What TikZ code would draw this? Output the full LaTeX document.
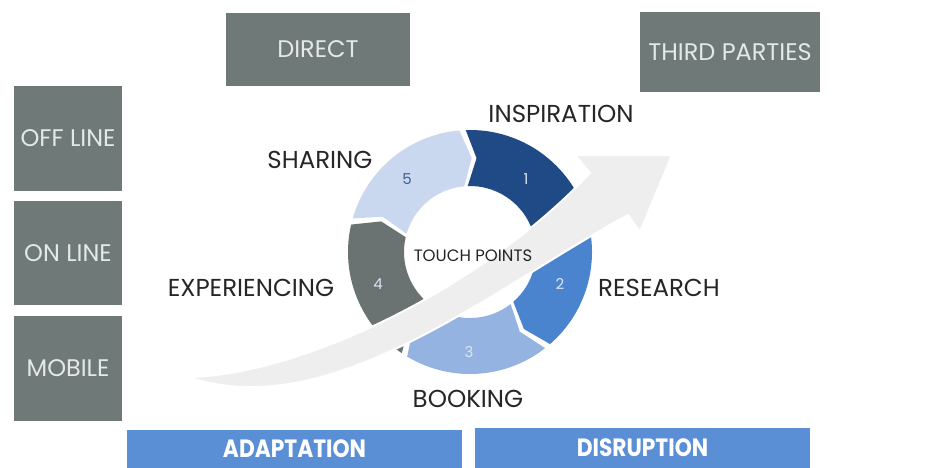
\documentclass[tikz,border=0pt]{standalone}
\usepackage{fontspec}
\setmainfont{Poppins}
\usepackage{graphicx}
\definecolor{boxgray}{HTML}{6F7A78}
\definecolor{boxtext}{HTML}{E4E8E8}
\definecolor{labeltext}{HTML}{262626}
\definecolor{navy}{HTML}{1F4A86}
\definecolor{midblue}{HTML}{4A84CF}
\definecolor{lightblue}{HTML}{95B3E0}
\definecolor{segray}{HTML}{6A7371}
\definecolor{paleblue}{HTML}{C9D8EE}
\definecolor{barblue}{HTML}{5B8FD5}
\definecolor{bandgray}{HTML}{EEEEEE}
\definecolor{numpale}{HTML}{DCE5F2}
\definecolor{numdark}{HTML}{3F5F99}
\begin{document}
\begin{tikzpicture}[x=1pt,y=-1pt,
  chanbox/.style={fill=boxgray, text=boxtext, inner sep=0pt,
    font=\fontsize{24}{28}\selectfont},
  phase/.style={text=labeltext, inner sep=0pt,
    font=\fontsize{24.5}{28}\selectfont},
  stepnum/.style={inner sep=0pt, font=\fontsize{15}{17}\selectfont},
  barbox/.style={fill=barblue, text=white, inner sep=0pt,
    font=\fontsize{25}{28}\selectfont\bfseries}]
\useasboundingbox (0,0) rectangle (931,468);

% channel boxes
\node[chanbox, minimum width=184pt, minimum height=73pt] (direct) at (318,49.5) {DIRECT};
\node[chanbox, minimum width=180pt, minimum height=80pt] (third) at (730,52) {THIRD PARTIES};
\node[chanbox, minimum width=108pt, minimum height=105pt] (offline) at (68,138.5) {OFF LINE};
\node[chanbox, minimum width=108pt, minimum height=104pt] (online) at (68,253) {ON LINE};
\node[chanbox, minimum width=108pt, minimum height=105pt] (mobile) at (68,368.5) {MOBILE};

% bottom bars, running off the lower edge
\node[barbox, minimum width=335pt, minimum height=38pt] (adapt) at (294.5,449) {\scalebox{0.87}[1]{ADAPTATION}};
\node[barbox, minimum width=335pt, minimum height=40pt] (disrupt) at (642.5,448) {\scalebox{0.87}[1]{DISRUPTION}};

% cycle of five chevron arcs
\begin{scope}[shift={(470,252)}, y=1pt]
  \foreach \A/\col in {92/navy, 20/midblue, -52/lightblue, -124/segray, 164/paleblue}{
    \pgfmathsetmacro{\Bend}{\A-69}
    \pgfmathsetmacro{\Btip}{\A-75}
    \pgfmathsetmacro{\Bnotch}{\A-6}
    \fill[\col] (\A:122) arc[start angle=\A, end angle=\Bend, radius=122]
      -- (\Btip:94) -- (\Bend:66)
      arc[start angle=\Bend, end angle=\A, radius=66]
      -- (\Bnotch:94) -- cycle;
  }
\end{scope}

% numbers on the arcs
\node[stepnum, text=numpale] (n1) at (526,179) {1};
\node[stepnum, text=numpale] (n2) at (560,284) {2};
\node[stepnum, text=numpale] (n3) at (469,352) {3};
\node[stepnum, text=numpale] (n4) at (378,284) {4};
\node[stepnum, text=numdark] (n5) at (407,179) {5};

% sweeping growth arrow
\fill[bandgray, draw=white, line width=2pt, line join=miter]
  (188,377) .. controls (300,375) and (480,290) .. (590,173)
  -- (575,155) -- (672,155) -- (640,232) -- (628,215)
  .. controls (490,290) and (330,425) .. (188,377) -- cycle;

\node[inner sep=0pt, text=labeltext, font=\fontsize{16.5}{18}\selectfont] (touch) at (473,256) {TOUCH POINTS};

% phase labels
\node[phase] (insp) at (561,114) {INSPIRATION};
\node[phase] (share) at (320,160) {SHARING};
\node[phase] (exper) at (251,288) {EXPERIENCING};
\node[phase] (research) at (659,288) {RESEARCH};
\node[phase] (booking) at (468,399) {BOOKING};
\end{tikzpicture}
\end{document}
